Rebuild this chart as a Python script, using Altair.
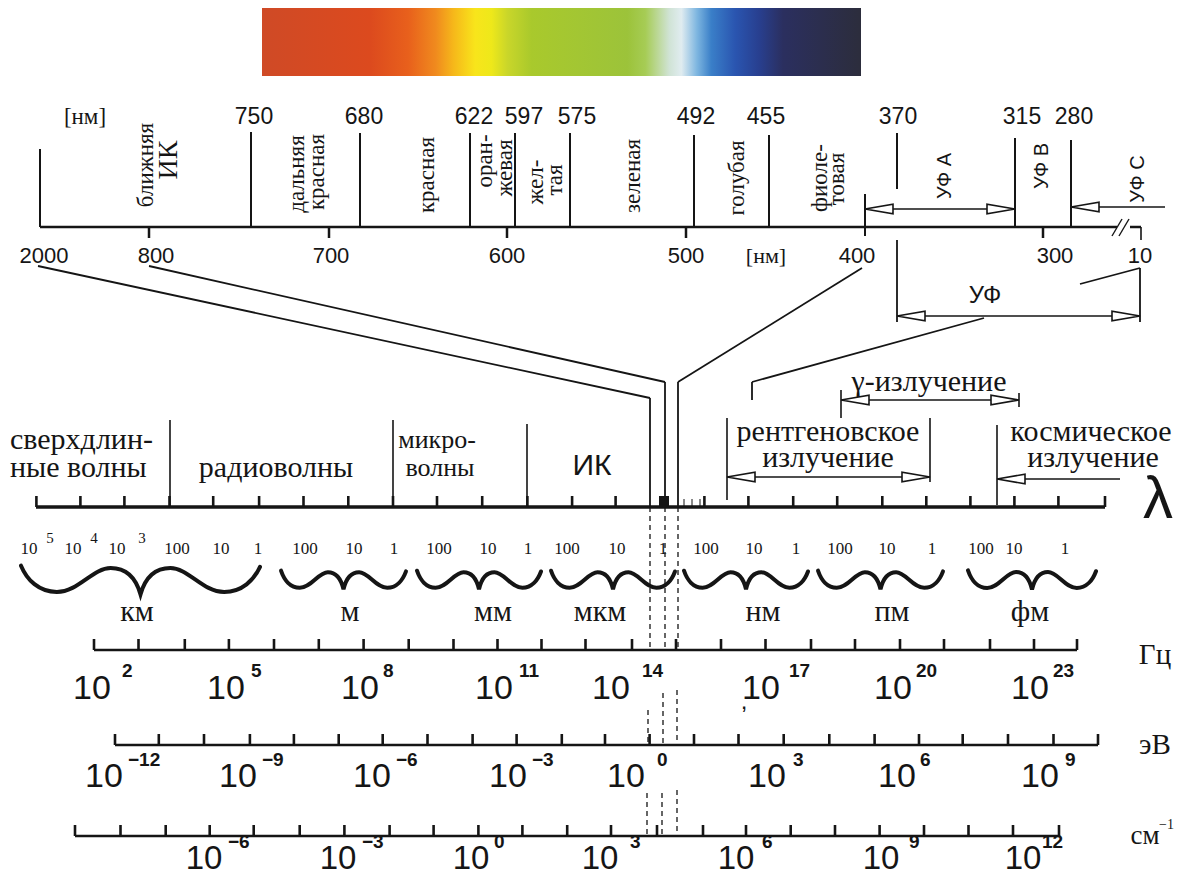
import altair as alt
import pandas as pd

# ---------------- data (diagram coordinates) ----------------
# visible spectrum band
band_x = [262, 861]
band_y = [8, 76]
spectrum_offsets = [0.0, 0.18, 0.244, 0.29, 0.32, 0.356, 0.383, 0.41, 0.45, 0.61,
                    0.64, 0.68, 0.70, 0.726, 0.75, 0.79, 0.83, 0.87, 1.0]
spectrum_colors = ["#cf4a26", "#dc4a1e", "#e8601c", "#f08a1e", "#f6b81a", "#f8e51b",
                   "#eee81a", "#c9d62a", "#a9c92c", "#9cc33a", "#a6cc55", "#d0e3d5",
                   "#e0ecf0", "#7eb6e0", "#3a7fc8", "#2a55b0", "#283f8f", "#2b2f5f", "#2c2d3c"]

# top nm scale
nm_boundary_labels = ["750", "680", "622", "597", "575", "492", "455", "370", "315", "280"]
nm_boundary_label_x = [254, 364, 474, 524, 577, 696, 766, 898, 1022, 1074]
nm_tick_labels = ["2000", "800", "700", "600", "500", "400", "300", "10"]
nm_tick_label_x = [44, 156, 331, 507, 686, 857, 1055, 1140]

band_names = [("ближняя", 146, 165), ("дальняя", 297, 174), ("красная", 317, 172),
              ("красная", 427, 175), ("оран-", 485, 161), ("жевая", 505, 168),
              ("жел-", 536, 182), ("тая", 555, 180), ("зеленая", 633, 176),
              ("голубая", 737, 178), ("фиоле-", 820, 178), ("товая", 837, 179)]
uv_names = [("УФ А", 945, 176), ("УФ В", 1042, 166), ("УФ С", 1138, 179)]

# line work: (x, y, x2, y2, width)
top_lines = [
    (40, 227, 1117, 227, 2.5), (1130, 227, 1141, 227, 2.5),
    (1112, 236, 1122, 219, 1.4), (1119, 236, 1129, 219, 1.4),
    (1141, 227, 1141, 240, 1.6), (40, 149, 40, 227, 2),
    (149, 227, 149, 238, 2.5), (329, 227, 329, 238, 2.5), (507, 227, 507, 238, 2.5),
    (686, 227, 686, 238, 2.5), (1043, 227, 1043, 238, 2.5),
    (251, 132, 251, 227, 2), (360, 133, 360, 227, 2), (470, 133, 470, 227, 2),
    (515, 133, 515, 227, 2), (570, 133, 570, 227, 2), (694, 135, 694, 227, 2),
    (769, 135, 769, 227, 2), (1015, 138, 1015, 227, 2), (1071, 140, 1071, 227, 2),
    (865, 194, 865, 236, 2), (897, 133, 897, 189, 2),
    (865, 209, 1015, 209, 1.5), (1071, 207, 1165, 207, 1.5),
]
connect_lines = [
    (38, 266, 650, 398, 1.8), (650, 398, 650, 507, 1.8),
    (149, 266, 665, 382, 1.8), (665, 382, 665, 507, 1.8),
    (862, 268, 678, 382, 1.8), (678, 382, 678, 507, 1.8),
    (984, 318, 752, 382, 1.8), (752, 382, 752, 400, 1.8),
    (1080, 284, 1140, 268, 1.8),
    (897, 240, 897, 322, 1.8), (897, 316, 1140, 316, 1.5), (1140, 268, 1140, 322, 1.8),
]
middle_lines = [
    (36, 507, 1105, 507, 3.5),
    (170, 420, 170, 507, 1.6), (393, 420, 393, 507, 1.6), (527, 424, 527, 507, 1.6),
    (727, 418, 727, 500, 1.6), (930, 418, 930, 482, 1.6), (727, 477, 930, 477, 1.5),
    (841, 390, 841, 418, 1.6), (1019, 393, 1019, 407, 1.6), (841, 400, 1019, 400, 1.5),
    (997, 425, 997, 505, 1.6), (997, 479, 1120, 479, 1.5),
    (684, 507, 684, 499, 1), (692, 507, 692, 499, 1), (700, 507, 700, 499, 1),
]
lambda_ticks = [36.4, 80.4, 124.4, 169.5, 213.2, 259.1, 303.5, 348.3, 393.0, 437.0,
                482.2, 527.4, 572.1, 615.6, 660.4, 704.4, 748.4, 793.2, 837.2, 882.3,
                926.3, 970.4, 1014.4, 1058.4, 1105]
hz_ticks = [94, 138.5, 184.8, 228.9, 274, 318.8, 363.6, 408.7, 453.5, 497.5, 541.5,
            585.5, 632, 676, 721, 765.5, 811, 855, 900, 944, 990, 1034, 1077]
ev_ticks = [115, 158.8, 204, 249.9, 293.9, 338.7, 382.7, 427.5, 472.6, 516.6, 561.8,
            605, 649.6, 694, 738.5, 783.7, 829.3, 874.6, 919, 962.7, 1008, 1053.5, 1098]
cm_ticks = [75, 120.5, 165.7, 209.7, 253.7, 299.7, 344.4, 389.6, 433.6, 478.4, 522.4,
            567.2, 611, 657, 703, 746, 790.7, 835, 879.6, 924, 968.5, 1013, 1059]
axis_rows = [(lambda_ticks, 507), (hz_ticks, 650), (ev_ticks, 745), (cm_ticks, 836)]

dashed_lines = [
    (650, 507, 650, 650), (665, 507, 665, 650), (678, 507, 678, 650),
    (648, 710, 648, 745), (663, 693, 663, 745), (677, 690, 677, 745),
    (647, 793, 647, 836), (662, 793, 662, 836), (677, 790, 677, 836),
]
visible_block = [(659, 496, 669, 507)]

# arrow heads: (x of centre, y, direction)
arrow_heads = [(879, 209, "L"), (1001, 209, "R"), (1085, 207, "L"),
               (911, 316, "L"), (1126, 316, "R"), (855, 400, "L"), (1005, 400, "R"),
               (741, 477, "L"), (916, 477, "R"), (1011, 479, "L")]

# braces under the wavelength axis: (centre x, half width)
braces_big = [(140.5, 119.5)]
braces_small = [(343.5, 62.5), (479, 62), (613, 62), (746, 62), (880.5, 62.5), (1032, 64)]
brace_y = 580

brace_numbers = [("10", 29), ("10", 73), ("10", 117), ("100", 177), ("10", 221), ("1", 258),
                 ("100", 305), ("10", 354), ("1", 394), ("100", 439), ("10", 488), ("1", 528),
                 ("100", 567), ("10", 617), ("1", 663), ("100", 706), ("10", 754), ("1", 796),
                 ("100", 840), ("10", 887), ("1", 932), ("100", 981), ("10", 1014), ("1", 1065)]
brace_sups = [("5", 50), ("4", 94), ("3", 142)]
units = [("км", 137), ("м", 350), ("мм", 493), ("мкм", 600), ("нм", 763), ("пм", 892), ("фм", 1030)]

hz_exp = ["2", "5", "8", "11", "14", "17", "20", "23"]
hz_base_x = [92, 226, 360, 494, 611, 761, 893, 1030]
hz_exp_x = [122, 251, 383, 519, 642, 789, 916, 1053]
ev_exp = ["−12", "−9", "−6", "−3", "0", "3", "6", "9"]
ev_base_x = [104, 238, 372, 508, 626, 767, 897, 1040]
ev_exp_x = [128, 262, 396, 532, 657, 793, 920, 1065]
cm_exp = ["−6", "−3", "0", "3", "6", "9", "12"]
cm_base_x = [204, 338, 471, 600, 736, 881, 1023]
cm_exp_x = [228, 362, 494, 630, 762, 909, 1042]

# ---------------- chart ----------------
XS = alt.Scale(domain=[8, 1178])
YS = alt.Scale(domain=[8, 877], reverse=True)
INK = "#151515"
SERIF = "Liberation Serif"
SANS = "Liberation Sans"


def xy():
    return dict(x=alt.X("x:Q", scale=XS, axis=None), y=alt.Y("y:Q", scale=YS, axis=None))


def rule_layer(rows, dash=None):
    df = pd.DataFrame(rows, columns=["x", "y", "x2", "y2", "w"])
    kw = dict(color=INK, strokeCap="butt")
    if dash:
        kw["strokeDash"] = dash
    return alt.Chart(df).mark_rule(**kw).encode(
        x2="x2:Q", y2="y2:Q", strokeWidth=alt.StrokeWidth("w:Q", scale=None), **xy())


def text_layer(rows, font, align="center", weight="normal"):
    df = pd.DataFrame(rows, columns=["t", "x", "y", "s", "a"])
    return alt.Chart(df).mark_text(font=font, align=align, baseline="middle",
                                   color=INK, fontWeight=weight).encode(
        text="t:N", size=alt.Size("s:Q", scale=None),
        angle=alt.Angle("a:Q", scale=None), **xy())


layers = []

# spectrum band with gradient
grad = alt.LinearGradient(
    gradient="linear", x1=0, x2=1, y1=0, y2=0,
    stops=[alt.GradientStop(color=c, offset=o) for o, c in zip(spectrum_offsets, spectrum_colors)])
band_df = pd.DataFrame({"x": [band_x[0]], "x2": [band_x[1]], "y": [band_y[0]], "y2": [band_y[1]]})
layers.append(alt.Chart(band_df).mark_rect(color=grad).encode(x2="x2:Q", y2="y2:Q", **xy()))

# lines
tick_rows = []
for ticks, y0 in axis_rows:
    for t in ticks:
        tick_rows.append((t, y0, t, y0 - 11, 2.6))
hz_axis = [(94, 650, 1077, 650, 2.6)]
ev_axis = [(115, 745, 1098, 745, 2.6)]
cm_axis = [(75, 836, 1059, 836, 2.6)]
layers.append(rule_layer(top_lines + connect_lines + middle_lines + tick_rows + hz_axis + ev_axis + cm_axis))
layers.append(rule_layer([r + (1.3,) for r in dashed_lines], dash=[5, 4]))

blk = pd.DataFrame(visible_block, columns=["x", "y", "x2", "y2"])
layers.append(alt.Chart(blk).mark_rect(color=INK).encode(x2="x2:Q", y2="y2:Q", **xy()))

# arrow heads
LEFT_HEAD = "M -1 0 L 1 -0.34 L 1 0.34 Z"
RIGHT_HEAD = "M 1 0 L -1 -0.34 L -1 0.34 Z"
for d, path in (("L", LEFT_HEAD), ("R", RIGHT_HEAD)):
    df = pd.DataFrame([(a, b) for a, b, dd in arrow_heads if dd == d], columns=["x", "y"])
    layers.append(alt.Chart(df).mark_point(shape=path, filled=True, fill="white", stroke=INK,
                                           strokeWidth=1.6, opacity=1, size=784).encode(**xy()))


# braces
def brace_path(k):
    pts = [(-1, -0.12), (-0.95, 0.0), (-0.85, 0.10), (-0.70, 0.10), (-0.52, 0.10), (-0.40, -0.10),
           (-0.25, -0.10), (-0.12, -0.10), (-0.04, -0.02), (0, 0.12), (0.04, -0.02), (0.12, -0.10),
           (0.25, -0.10), (0.40, -0.10), (0.52, 0.10), (0.70, 0.10), (0.85, 0.10), (0.95, 0.0), (1, -0.11)]
    p = [(a, b * k) for a, b in pts]
    s = "M %g %g" % p[0]
    for i in range(1, len(p), 3):
        s += " C %g %g %g %g %g %g" % (p[i] + p[i + 1] + p[i + 2])
    return s


for lst, k in ((braces_big, 1.0), (braces_small, 1.25)):
    df = pd.DataFrame([(cx, brace_y, (2 * hw) ** 2) for cx, hw in lst], columns=["x", "y", "sz"])
    layers.append(alt.Chart(df).mark_point(shape=brace_path(k), filled=False, stroke=INK,
                                           strokeWidth=4, opacity=1, strokeCap="round").encode(
        size=alt.Size("sz:Q", scale=None), **xy()))

# texts
sans_c = []
sans_c += [(t, x, 117, 23, 0) for t, x in zip(nm_boundary_labels, nm_boundary_label_x)]
sans_c += [(t, x, 256, 22, 0) for t, x in zip(nm_tick_labels, nm_tick_label_x)]
sans_c += [(t, x, y, 20, 270) for t, x, y in uv_names]
sans_c += [("ИК", 592, 466, 30, 0), ("λ", 1158, 500, 60, 0), ("УФ", 985, 296, 24, 0),
           (",", 744, 702, 24, 0)]
sans_c += [("10", x, 689, 34, 0) for x in hz_base_x]
sans_c += [("10", x, 777, 34, 0) for x in ev_base_x]
sans_c += [("10", x, 859, 33, 0) for x in cm_base_x]
sans_l = []
sans_l += [(t, x, 671, 19, 0) for t, x in zip(hz_exp, hz_exp_x)]
sans_l += [(t, x, 760, 19, 0) for t, x in zip(ev_exp, ev_exp_x)]
sans_l += [(t, x, 842, 19, 0) for t, x in zip(cm_exp, cm_exp_x)]

serif_c = [("[нм]", 85, 117, 23, 0), ("[нм]", 766, 256, 22, 0)]
serif_c += [(t, x, y, 23, 270) for t, x, y in band_names]
serif_c += [("радиоволны", 276, 468, 30, 0), ("микро-", 437, 440, 26, 0), ("волны", 440, 468, 26, 0),
            ("рентгеновское", 828, 432, 30, 0), ("излучение", 828, 458, 30, 0),
            ("γ-излучение", 929, 382, 30, 0), ("космическое", 1091, 432, 30, 0),
            ("излучение", 1093, 458, 30, 0)]
serif_c += [(t, x, 549, 17, 0) for t, x in brace_numbers]
serif_c += [(t, x, 538, 15, 0) for t, x in brace_sups]
serif_c += [(t, x, 612, 30, 0) for t, x in units]
serif_c += [("Гц", 1155, 655, 29, 0), ("эВ", 1155, 745, 29, 0), ("см", 1145, 836, 27, 0)]
serif_l = [("сверхдлин-", 10, 440, 30, 0), ("ные волны", 10, 468, 30, 0), ("−1", 1159, 825, 14, 0)]

layers.append(text_layer(sans_c, SANS))
layers.append(text_layer(sans_l, SANS, align="left", weight="bold"))
layers.append(text_layer(serif_c, SERIF))
layers.append(text_layer(serif_l, SERIF, align="left"))
layers.append(text_layer([("ИК", 169, 160, 28, 270)], SERIF))

chart = alt.layer(*layers).properties(
    width=1170, height=869, padding=0,
    autosize=alt.AutoSizeParams(type="none"),
    background="white",
).configure_view(stroke=None)

chart.save("out.html", embed_options={"renderer": "svg", "actions": False})
